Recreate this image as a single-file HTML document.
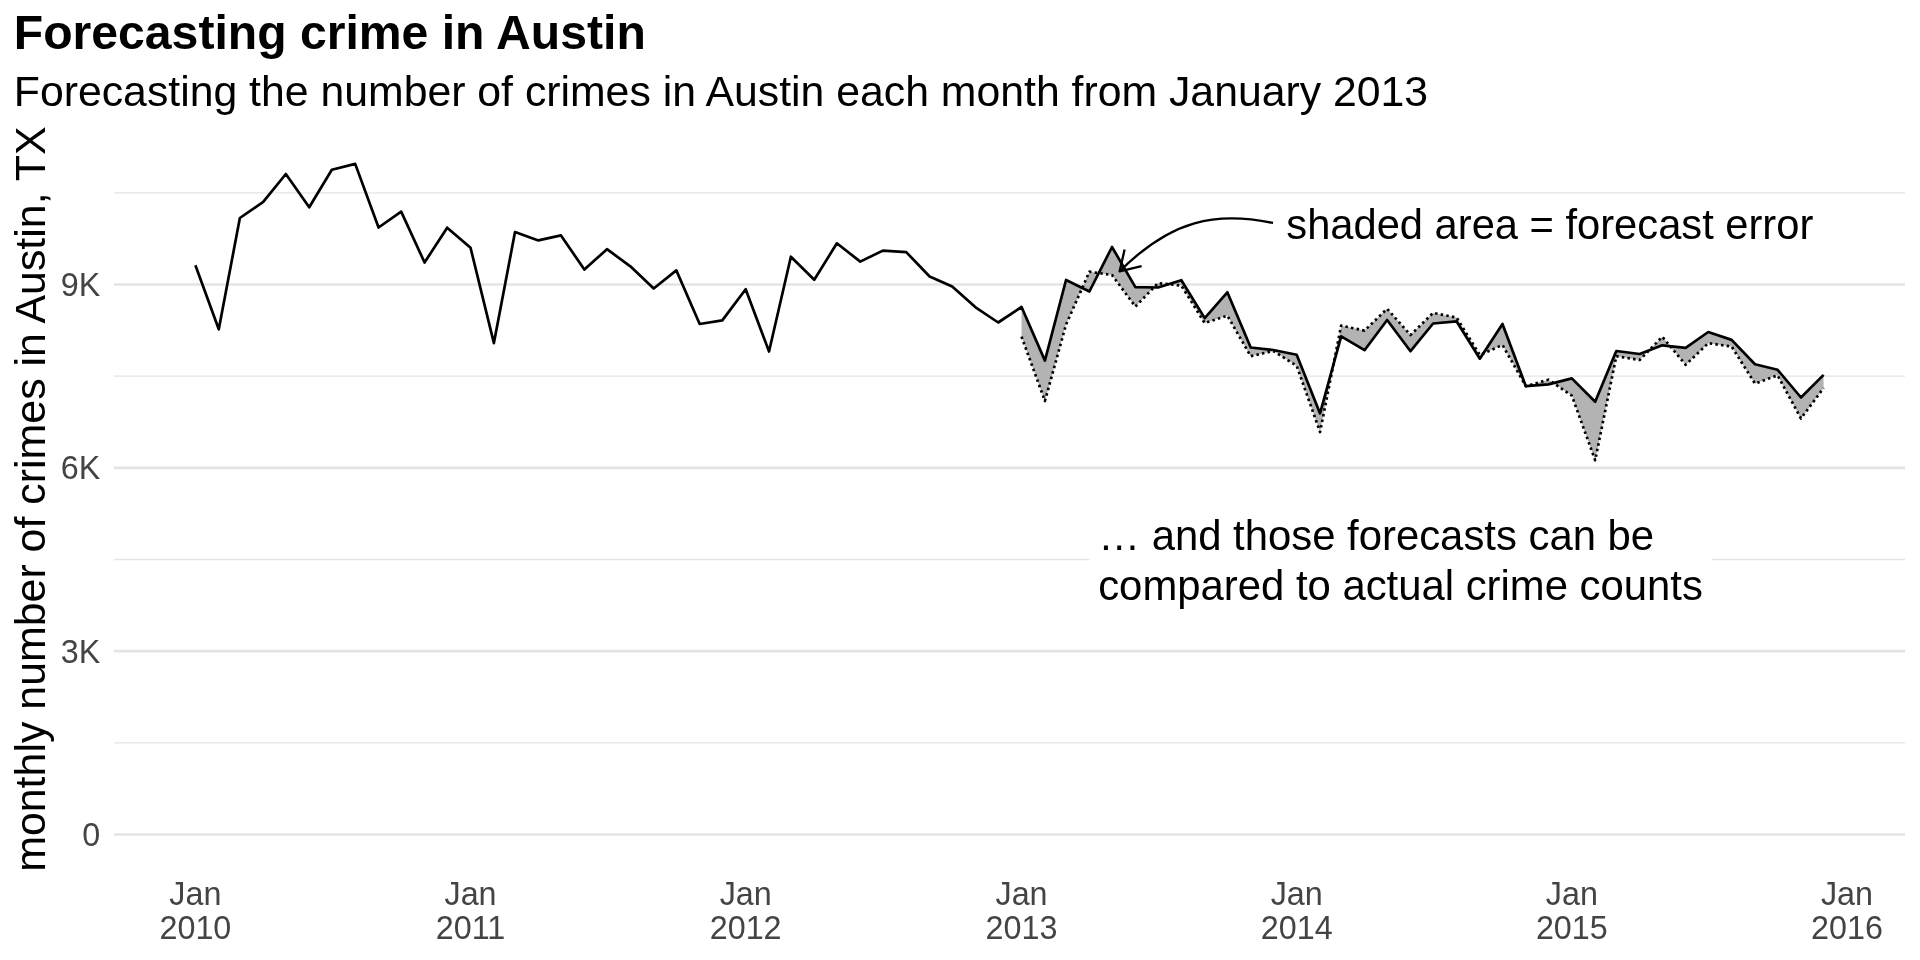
<!DOCTYPE html>
<html><head><meta charset="utf-8"><title>Forecasting crime in Austin</title>
<style>
html,body{margin:0;padding:0;background:#fff;}
body{width:1920px;height:960px;overflow:hidden;}
svg{display:block;will-change:transform;}
text{font-family:"Liberation Sans",Arial,Helvetica,sans-serif;}
.gm{stroke:#E4E4E4;stroke-width:1.4;}
.gM{stroke:#E4E4E4;stroke-width:2.7;}
.ax{font-size:32.3px;fill:#444;}
.ttl{font-size:48.14px;font-weight:bold;fill:#000;}
.sub{font-size:42.78px;fill:#000;}
.yl{font-size:42.9px;fill:#000;}
.ann{font-size:41.68px;fill:#000;}
.ann2{font-size:41.85px;fill:#000;}
</style></head>
<body>
<svg width="1920" height="960" viewBox="0 0 1920 960">
<rect width="1920" height="960" fill="#fff"/>
<line x1="114" x2="1905" y1="742.83" y2="742.83" class="gm"/>
<line x1="114" x2="1905" y1="559.5" y2="559.5" class="gm"/>
<line x1="114" x2="1905" y1="376.17" y2="376.17" class="gm"/>
<line x1="114" x2="1905" y1="192.83" y2="192.83" class="gm"/>
<line x1="114" x2="1905" y1="834.5" y2="834.5" class="gM"/>
<line x1="114" x2="1905" y1="651.17" y2="651.17" class="gM"/>
<line x1="114" x2="1905" y1="467.83" y2="467.83" class="gM"/>
<line x1="114" x2="1905" y1="284.5" y2="284.5" class="gM"/>
<polygon points="1021.55,307 1044.92,360.6 1066.03,280 1089.39,291.5 1112.01,247 1135.37,287.1 1157.99,287.5 1181.35,280.2 1204.72,318.1 1227.34,292.3 1250.7,347.5 1273.32,350 1296.68,354.8 1320.05,413.4 1341.16,336.4 1364.53,350.2 1387.14,320 1410.51,351.2 1433.12,323.5 1456.49,321.3 1479.85,358.7 1502.47,324 1525.84,386.2 1548.45,384.4 1571.82,378.4 1595.18,401.8 1616.29,351 1639.66,354 1662.27,345.3 1685.64,347.8 1708.25,332 1731.62,339.9 1754.99,364.2 1777.6,369.8 1800.97,397.5 1823.58,374.9 1823.58,388 1800.97,418.5 1777.6,375.3 1754.99,383.6 1731.62,346.5 1708.25,343.2 1685.64,364.8 1662.27,336.8 1639.66,360 1616.29,356.2 1595.18,460.3 1571.82,395.6 1548.45,379.7 1525.84,386.2 1502.47,345 1479.85,355 1456.49,317.5 1433.12,312.9 1410.51,335 1387.14,308.8 1364.53,330.6 1341.16,325.6 1320.05,432 1296.68,365.8 1273.32,351 1250.7,356.2 1227.34,315.6 1204.72,323.1 1181.35,285.6 1157.99,283.1 1135.37,306.6 1112.01,275 1089.39,271.7 1066.03,324.6 1044.92,401 1021.55,336.6" fill="#B3B3B3" stroke="none"/>
<polyline points="195.4,265.3 218.77,329.3 239.87,218 263.24,201.9 285.85,174 309.22,207.3 331.84,169.8 355.2,163.9 378.57,227.5 401.18,211.6 424.55,262.5 447.17,227.7 470.53,247.7 493.9,343.1 515.01,232.1 538.37,240.4 560.99,235.4 584.35,269.6 606.97,249.2 630.34,266.3 653.7,288.5 676.32,270.4 699.68,324 722.3,320.4 745.67,289.2 769.03,351.5 790.89,256.7 814.26,279.8 836.87,243.3 860.24,261.6 882.85,250.6 906.22,252.1 929.59,276.5 952.2,286.5 975.57,307.3 998.18,322.5 1021.55,307 1044.92,360.6 1066.03,280 1089.39,291.5 1112.01,247 1135.37,287.1 1157.99,287.5 1181.35,280.2 1204.72,318.1 1227.34,292.3 1250.7,347.5 1273.32,350 1296.68,354.8 1320.05,413.4 1341.16,336.4 1364.53,350.2 1387.14,320 1410.51,351.2 1433.12,323.5 1456.49,321.3 1479.85,358.7 1502.47,324 1525.84,386.2 1548.45,384.4 1571.82,378.4 1595.18,401.8 1616.29,351 1639.66,354 1662.27,345.3 1685.64,347.8 1708.25,332 1731.62,339.9 1754.99,364.2 1777.6,369.8 1800.97,397.5 1823.58,374.9" fill="none" stroke="#000" stroke-width="2.7" stroke-linejoin="round" stroke-linecap="butt"/>
<polyline points="1021.55,336.6 1044.92,401 1066.03,324.6 1089.39,271.7 1112.01,275 1135.37,306.6 1157.99,283.1 1181.35,285.6 1204.72,323.1 1227.34,315.6 1250.7,356.2 1273.32,351 1296.68,365.8 1320.05,432 1341.16,325.6 1364.53,330.6 1387.14,308.8 1410.51,335 1433.12,312.9 1456.49,317.5 1479.85,355 1502.47,345 1525.84,386.2 1548.45,379.7 1571.82,395.6 1595.18,460.3 1616.29,356.2 1639.66,360 1662.27,336.8 1685.64,364.8 1708.25,343.2 1731.62,346.5 1754.99,383.6 1777.6,375.3 1800.97,418.5 1823.58,388" fill="none" stroke="#000" stroke-width="2.7" stroke-linejoin="round" stroke-linecap="butt" stroke-dasharray="2.5 3.2"/>
<path d="M1273.05,222.97 C1216.23,211.32 1171.4,219.4 1119.6,271.4" fill="none" stroke="#000" stroke-width="2.3"/>
<polyline points="1124.6,249.6 1119.6,271.4 1141.6,266.1" fill="none" stroke="#000" stroke-width="2.3" stroke-linejoin="round"/>
<rect x="1089.3" y="510" width="622.8" height="100" fill="#fff"/>
<text x="1286.3" y="238.6" class="ann">shaded area = forecast error</text>
<text x="1098.2" y="549.85" class="ann2">… and those forecasts can be</text>
<text x="1098.2" y="599.9" class="ann2">compared to actual crime counts</text>
<text x="100.3" y="845.9" class="ax" text-anchor="end">0</text>
<text x="100.3" y="662.57" class="ax" text-anchor="end">3K</text>
<text x="100.3" y="479.23" class="ax" text-anchor="end">6K</text>
<text x="100.3" y="295.9" class="ax" text-anchor="end">9K</text>
<text x="195.4" y="904.8" class="ax" text-anchor="middle">Jan</text><text x="195.4" y="938.8" class="ax" text-anchor="middle">2010</text>
<text x="470.53" y="904.8" class="ax" text-anchor="middle">Jan</text><text x="470.53" y="938.8" class="ax" text-anchor="middle">2011</text>
<text x="745.67" y="904.8" class="ax" text-anchor="middle">Jan</text><text x="745.67" y="938.8" class="ax" text-anchor="middle">2012</text>
<text x="1021.55" y="904.8" class="ax" text-anchor="middle">Jan</text><text x="1021.55" y="938.8" class="ax" text-anchor="middle">2013</text>
<text x="1296.68" y="904.8" class="ax" text-anchor="middle">Jan</text><text x="1296.68" y="938.8" class="ax" text-anchor="middle">2014</text>
<text x="1571.82" y="904.8" class="ax" text-anchor="middle">Jan</text><text x="1571.82" y="938.8" class="ax" text-anchor="middle">2015</text>
<text x="1846.95" y="904.8" class="ax" text-anchor="middle">Jan</text><text x="1846.95" y="938.8" class="ax" text-anchor="middle">2016</text>
<text x="13.8" y="48.8" class="ttl">Forecasting crime in Austin</text>
<text x="13.8" y="105.7" class="sub">Forecasting the number of crimes in Austin each month from January 2013</text>
<text transform="translate(44.7,499.15) rotate(-90)" class="yl" text-anchor="middle">monthly number of crimes in Austin, TX</text>
</svg>
</body></html>
